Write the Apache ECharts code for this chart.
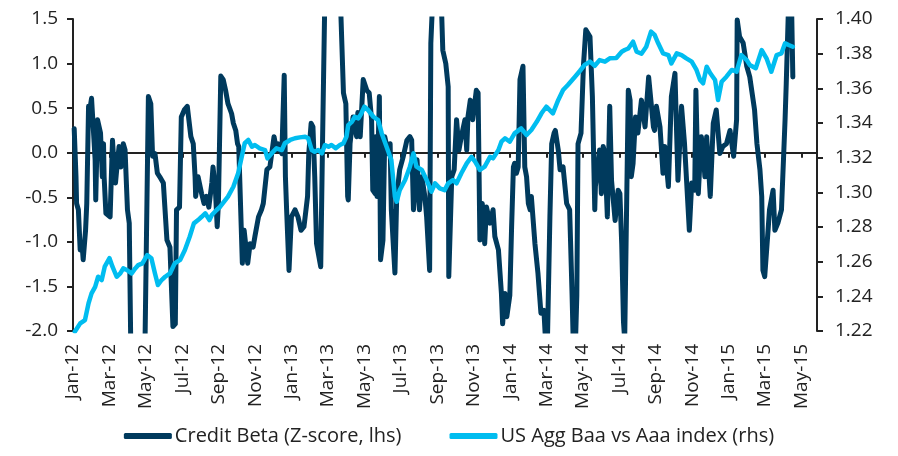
<!DOCTYPE html>
<html>
<head>
<meta charset="utf-8">
<title>Credit Beta vs US Agg Baa/Aaa</title>
<script src="https://cdn.jsdelivr.net/npm/echarts@6/dist/echarts.min.js"></script>
<style>
  html, body { margin: 0; padding: 0; background: #fff; }
  #chart { width: 898px; height: 456px; }
</style>
</head>
<body>
<div id="chart"></div>
<script>
// Days since 1 Jan 2012 and the Credit Beta z-score on those days (left axis)
const betaDays = [2,5,6,9,12,15,17,21,23,26,28,31,34,37,38,41,46,49,51,52,55,62,66,68,71,74,77,80,84,87,91,94,97,109,120,
  126,130,133,137,141,145,151,157,162,167,171,173,178,181,186,191,197,201,204,205,209,215,219,223,227,232,234,238,241,243,
  247,251,255,259,265,268,272,275,277,283,286,292,296,301,304,310,315,318,324,329,336,340,343,349,353,355,357,361,365,371,
  376,381,386,392,394,398,401,404,407,414,417,421,433,446,452,456,459,460,463,468,474,476,480,485,491,495,499,501,505,506,
  508,512,514,518,521,527,530,532,538,541,546,552,558,563,566,569,571,575,579,583,588,591,596,598,601,608,615,618,623,627,
  628,633,637,641,645,649,655,658,660,664,668,674,677,680,684,688,691,697,702,705,711,716,718,722,725,730,733,736,738,741,
  744,747,752,755,758,761,764,766,772,777,782,787,792,797,800,804,806,811,814,819,825,830,834,837,839,842,844,849,853,857,
  864,868,872,873,880,883,886,889,893,897,900,906,911,914,917,920,922,928,931,933,936,940,944,950,956,962,970,972,975,981,
  986,989,995,1000,1006,1011,1017,1022,1030,1034,1039,1041,1045,1050,1053,1056,1059,1065,1070,1075,1081,1086,1092,1098,
  1104,1109,1110,1114,1120,1126,1131,1139,1143,1148,1151,1153,1156,1162,1164,1170,1173,1178,1184,1190,1192,1196,1201,1203];
const betaZ = [0.27,-0.27,-0.57,-0.64,-1.09,-1.01,-1.2,-0.87,-0.57,0.52,0.48,0.61,0.59,-0.08,-0.53,0.37,0.22,-0.27,0.1,-0.27,-0.68,-0.72,0.14,-0.08,-0.34,-0.12,0.07,-0.16,0.1,0.03,-0.64,-0.79,-2.4,-2.6,-2.3,
  0.63,0.55,-0.04,-0.01,-0.23,-0.27,-0.34,-0.98,-1.06,-1.95,-1.92,-0.64,-0.61,0.4,0.48,0.52,0.18,0.1,-0.27,-0.49,-0.27,-0.46,-0.57,-0.49,-0.61,-0.34,-0.16,-0.42,-0.83,-0.57,
  0.86,0.82,0.7,0.55,0.44,0.33,0.25,0.1,0.07,-1.24,-0.87,-1.24,-1.02,-1.06,-0.94,-0.72,-0.64,-0.57,-0.19,-0.16,0.18,0.03,0.1,-0.01,0.87,-0.27,-0.64,-1.32,-0.72,-0.64,
  -0.72,-0.87,-0.83,-0.49,-0.01,0.33,0.29,-0.27,-1.02,-1.28,0.1,1.8,2.1,1.9,0.67,0.55,-0.49,-0.53,0.1,0.4,0.18,0.45,0.18,0.82,0.7,0.67,0.37,-0.42,-0.46,0.18,
  -0.49,0.63,-1.2,-0.98,0.18,-0.01,0.1,-0.64,-1.35,-0.49,-0.19,-0.04,0.14,0.18,0.14,-0.64,-0.64,-0.08,-0.64,-0.27,-0.49,-0.72,-1.32,1.23,1.7,2.0,1.8,1.15,1.0,0.74,
  -1.39,-0.27,-0.19,0.37,0.03,0.18,0.37,0.03,0.4,0.59,0.37,0.7,0.67,-0.98,-0.57,-1.02,-0.61,-0.79,-0.64,-0.94,-1.09,-1.58,-1.92,-1.58,-1.84,-1.6,-0.83,-0.16,-0.12,-0.23,
  -0.16,0.82,0.97,-0.16,-0.27,-0.57,-0.64,-0.49,-1.02,-1.35,-1.8,-1.77,-2.4,-0.72,0.1,0.22,0.25,0.03,-0.19,-0.16,-0.57,-0.64,-1.58,-2.4,-2.3,-1.6,0.1,0.22,0.97,1.38,
  1.3,0.63,-0.64,-0.38,0.03,-0.46,0.07,-0.01,-0.72,0.52,-0.31,-0.76,-0.42,-0.46,-1.02,-1.9,-2.1,0.7,0.59,-0.27,-0.12,0.4,0.22,0.59,0.29,0.85,0.29,0.25,0.52,0.29,
  -0.23,0.07,-0.38,0.63,0.89,-0.31,0.52,0.1,-0.87,-0.34,-0.42,0.7,-0.46,0.18,0.03,-0.27,0.18,-0.49,0.33,0.48,-0.01,0.07,0.1,0.25,
  -0.04,0.37,1.49,1.3,1.23,0.97,0.85,0.48,0.1,-0.19,-0.49,-1.32,-1.39,-0.83,-0.64,-0.42,-0.87,-0.79,-0.64,0.37,0.78,1.7,1.6,0.85];

// Days since 1 Jan 2012 and the US Agg Baa vs Aaa index (right axis)
const baaDays = [3,12,20,26,31,37,42,48,53,61,66,73,79,84,90,98,104,109,116,124,131,137,142,148,154,162,170,179,187,195,202,
  209,215,221,228,232,240,246,259,268,276,282,287,293,299,304,312,321,325,332,340,349,354,363,371,379,388,393,399,404,410,
  416,421,427,432,439,446,452,457,460,466,471,477,482,487,493,502,510,516,524,532,538,541,546,555,563,569,574,583,591,599,
  605,613,621,627,635,641,649,658,666,672,680,688,697,702,711,716,722,730,738,749,758,766,775,783,791,802,811,819,827,839,
  847,855,864,872,880,889,897,908,917,922,928,936,942,950,958,966,972,978,986,995,1000,1009,1017,1025,1034,1042,1048,1053,
  1059,1065,1073,1078,1084,1092,1101,1109,1117,1126,1131,1141,1151,1159,1167,1176,1184,1190,1196,1203];
const baaRatio = [1.2196,1.2244,1.2263,1.236,1.2417,1.2455,1.2513,1.2494,1.2571,1.262,1.2571,1.2513,1.2532,1.2561,1.2552,1.2532,
  1.2561,1.258,1.259,1.2638,1.262,1.2532,1.2465,1.2494,1.2513,1.2532,1.259,1.261,1.2667,1.2744,1.2821,1.284,1.2859,1.2879,
  1.284,1.2869,1.2898,1.2917,1.2975,1.3032,1.311,1.3205,1.3283,1.3302,1.3263,1.3273,1.3254,1.3244,1.3196,1.3225,1.3254,
  1.3244,1.3283,1.3302,1.3312,1.3317,1.3321,1.3312,1.3244,1.3234,1.3244,1.3225,1.3273,1.3263,1.3273,1.3254,1.3273,1.3283,
  1.3321,1.3388,1.3407,1.3436,1.3427,1.3456,1.3494,1.3475,1.3436,1.3417,1.334,1.3263,1.3186,1.2975,1.2946,1.3013,1.3071,
  1.3148,1.3225,1.3148,1.3129,1.3071,1.3004,1.3052,1.3023,1.3013,1.3052,1.3071,1.3052,1.311,1.3167,1.3205,1.3177,1.3129,
  1.3148,1.3205,1.3196,1.3244,1.3292,1.3312,1.3292,1.334,1.3369,1.3331,1.336,1.3407,1.3456,1.3494,1.3456,1.3533,1.359,
  1.3619,1.3667,1.37,1.3735,1.3754,1.373,1.3763,1.3754,1.3773,1.3775,1.3811,1.3821,1.383,1.3869,1.3811,1.38,1.384,1.3927,
  1.3908,1.386,1.3802,1.3792,1.3744,1.3802,1.3792,1.3773,1.3754,1.3706,1.3648,1.3629,1.3725,1.3687,1.3648,1.3533,1.3638,
  1.3667,1.3706,1.3696,1.3792,1.3763,1.3735,1.3716,1.3821,1.3773,1.3696,1.3792,1.3802,1.386,1.385,1.384];

// Bottom axis labels, one every two months from Jan-12
const xTickLabels = ['Jan-12','Mar-12','May-12','Jul-12','Sep-12','Nov-12','Jan-13','Mar-13','May-13','Jul-13',
  'Sep-13','Nov-13','Jan-14','Mar-14','May-14','Jul-14','Sep-14','Nov-14','Jan-15','Mar-15','May-15'];

const seriesNames = ['Credit Beta (Z-score, lhs)', 'US Agg Baa vs Aaa index (rhs)'];

const DAYS_PER_MONTH = 30.4375;
const toMonths = d => d / DAYS_PER_MONTH;

const betaData = betaDays.map((d, i) => [toMonths(d), betaZ[i]]);
const baaData = baaDays.map((d, i) => [toMonths(d), baaRatio[i]]);

const NAVY = '#003a5d';
const CYAN = '#00bdf0';
const INK = '#222222';
const FONT = "'Open Sans', 'Noto Sans', sans-serif";
const AXIS_FONT_SIZE = 19;

const chart = echarts.init(document.getElementById('chart'), null, { renderer: 'canvas' });

chart.setOption({
  animation: false,
  backgroundColor: '#ffffff',
  textStyle: { fontFamily: FONT },
  grid: { left: 73, right: 81, top: 19, bottom: 125, containLabel: false },
  legend: {
    bottom: 5,
    left: 'center',
    itemWidth: 48,
    itemHeight: 6,
    itemGap: 48,
    icon: 'roundRect',
    textStyle: { fontFamily: FONT, fontSize: 20, color: INK, padding: [0, 0, 0, -2] },
    data: seriesNames
  },
  xAxis: [
    {
      // month labels along the bottom of the plot
      type: 'value',
      min: 0,
      max: 40.85,
      interval: 2,
      position: 'bottom',
      axisLine: { show: false },
      axisTick: { show: false },
      splitLine: { show: false },
      axisLabel: {
        rotate: 90,
        margin: 13,
        fontFamily: FONT,
        fontSize: AXIS_FONT_SIZE,
        color: INK,
        showMaxLabel: false,
        formatter: v => {
          const k = Math.round(v / 2);
          return Math.abs(v - k * 2) < 1e-6 && xTickLabels[k] ? xTickLabels[k] : '';
        }
      }
    },
    {
      // zero line with downward ticks
      type: 'value',
      min: 0,
      max: 40.85,
      interval: 2,
      position: 'bottom',
      axisLine: { show: true, onZero: true, onZeroAxisIndex: 0, lineStyle: { color: INK, width: 2 } },
      axisTick: { show: true, inside: false, length: 5, lineStyle: { color: INK, width: 2 } },
      axisLabel: { show: false },
      splitLine: { show: false }
    }
  ],
  yAxis: [
    {
      type: 'value',
      position: 'left',
      min: -2,
      max: 1.5,
      interval: 0.5,
      axisLine: { show: true, onZero: false, lineStyle: { color: INK, width: 2 } },
      axisTick: { show: true, length: 6, lineStyle: { color: INK, width: 2 } },
      splitLine: { show: false },
      axisLabel: { fontFamily: FONT, fontSize: AXIS_FONT_SIZE, color: INK, margin: 15, formatter: v => v.toFixed(1) }
    },
    {
      type: 'value',
      position: 'right',
      min: 1.22,
      max: 1.40,
      interval: 0.02,
      axisLine: { show: true, onZero: false, lineStyle: { color: INK, width: 2 } },
      axisTick: { show: true, length: 6, lineStyle: { color: INK, width: 2 } },
      splitLine: { show: false },
      axisLabel: { fontFamily: FONT, fontSize: AXIS_FONT_SIZE, color: INK, margin: 18, formatter: v => v.toFixed(2) }
    }
  ],
  series: [
    {
      name: seriesNames[0],
      type: 'line',
      xAxisIndex: 0,
      yAxisIndex: 0,
      data: betaData,
      showSymbol: false,
      clip: true,
      color: NAVY,
      lineStyle: { color: NAVY, width: 5, join: 'round', cap: 'round' },
      z: 2
    },
    {
      name: seriesNames[1],
      type: 'line',
      xAxisIndex: 0,
      yAxisIndex: 1,
      data: baaData,
      showSymbol: false,
      clip: true,
      color: CYAN,
      lineStyle: { color: CYAN, width: 4.5, join: 'round', cap: 'round' },
      z: 3
    }
  ]
});
</script>
</body>
</html>
